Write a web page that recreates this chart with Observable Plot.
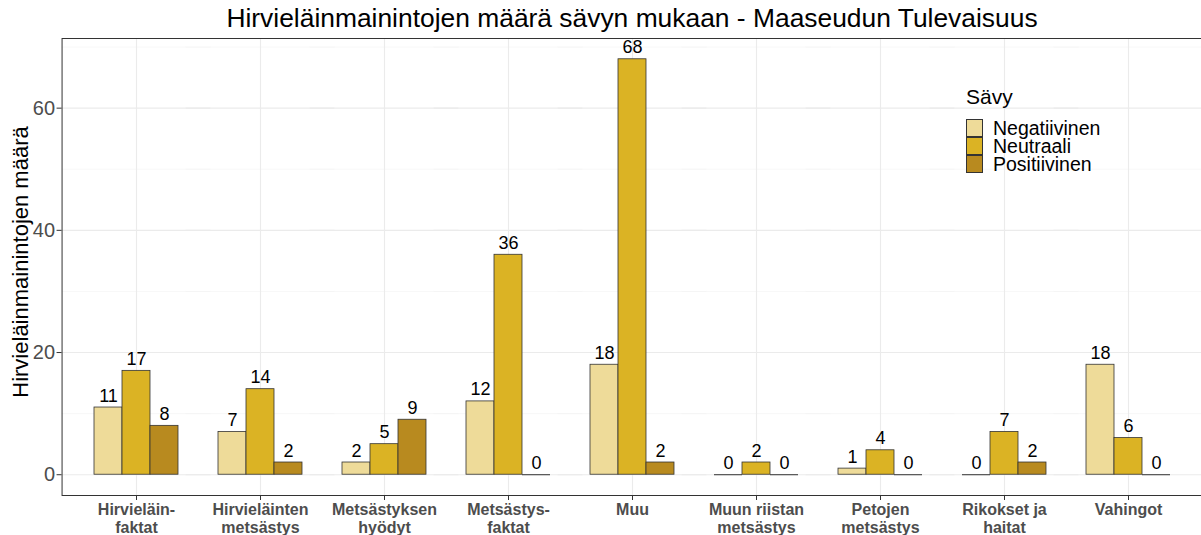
<!DOCTYPE html>
<html><head><meta charset="utf-8">
<script src="https://cdn.jsdelivr.net/npm/d3@7"></script>
<script src="https://cdn.jsdelivr.net/npm/@observablehq/plot@0.6"></script>
<style>
html,body{margin:0;padding:0;background:#fff;overflow:hidden;}
#wrap{position:relative;width:1201px;height:535px;overflow:hidden;font-family:"Liberation Sans",Arial,sans-serif;}
#chart{position:absolute;left:0;top:0;width:1205px;}
#chart svg{max-width:none !important;}
#title{position:absolute;left:60px;width:1144px;top:3px;text-align:center;font-size:26.4px;line-height:30px;color:#000;white-space:nowrap;}
#ylab{position:absolute;left:21px;top:262px;transform:translate(-50%,-50%) rotate(-90deg);font-size:22px;color:#000;white-space:nowrap;}
#legend{position:absolute;left:966px;top:84px;}
#legend .lt{font-size:21px;line-height:26px;margin-bottom:9px;color:#000;}
#legend .row{display:flex;align-items:center;height:18px;}
#legend .key{width:17px;height:18px;border:0.8px solid #333;box-sizing:border-box;}
#legend .lab{margin-left:10px;font-size:19.5px;color:#000;line-height:18px;}
</style></head>
<body>
<div id="wrap">
  <div id="chart"></div>
  <div id="title">Hirvieläinmainintojen määrä sävyn mukaan - Maaseudun Tulevaisuus</div>
  <div id="ylab">Hirvieläinmainintojen määrä</div>
  <div id="legend"></div>
</div>
<script>
const categories = ["Hirvieläin-faktat","Hirvieläinten metsästys","Metsästyksen hyödyt","Metsästys-faktat","Muu","Muun riistan metsästys","Petojen metsästys","Rikokset ja haitat","Vahingot"];
const tickLabels = ["Hirvieläin-\nfaktat","Hirvieläinten\nmetsästys","Metsästyksen\nhyödyt","Metsästys-\nfaktat","Muu","Muun riistan\nmetsästys","Petojen\nmetsästys","Rikokset ja\nhaitat","Vahingot"];
const series = ["Negatiivinen","Neutraali","Positiivinen"];
const negatiivinen = [11, 7, 2, 12, 18, 0, 1, 0, 18];
const neutraali   = [17, 14, 5, 36, 68, 2, 4, 7, 6];
const positiivinen = [8, 2, 9, 0, 2, 0, 0, 2, 0];
const colors = ["#EEDB99","#DBB324","#B88A1F"];
const yTicks = [0, 20, 40, 60];
const yMinorTicks = [10, 30, 50, 70];
const yDomain = [-3.4, 71.4];

const seriesValues = [negatiivinen, neutraali, positiivinen];
const rows = categories.flatMap((c, i) => series.map((s, j) => ({category: c, savy: s, value: seriesValues[j][i]})));

const W = 1205, ML = 60, MR = 1, fxOuter = 0.1;
// outer padding of the fx band scale in pixels (the panel extends over it, like ggplot's discrete expansion)
const pad = (W - ML - MR) / (categories.length + 2 * fxOuter) * fxOuter;

const plot = Plot.plot({
  width: W, height: 535,
  marginTop: 38, marginBottom: 40, marginLeft: ML, marginRight: MR,
  style: {fontFamily: '"Liberation Sans", Arial, sans-serif', background: "transparent", maxWidth: "none"},
  fx: {domain: categories, paddingInner: 0, paddingOuter: fxOuter, label: null},
  x: {domain: series, paddingInner: 0, paddingOuter: 0.645, axis: null},
  y: {domain: yDomain, label: null},
  color: {domain: series, range: colors},
  marks: [
    Plot.gridY(yMinorTicks, {insetLeft: -pad, insetRight: -pad, stroke: "#F3F3F3", strokeOpacity: 1, strokeWidth: 0.6}),
    Plot.gridY(yTicks, {insetLeft: -pad, insetRight: -pad, stroke: "#EBEBEB", strokeOpacity: 1, strokeWidth: 1.1}),
    Plot.gridFx({stroke: "#EBEBEB", strokeOpacity: 1, strokeWidth: 1.1}),
    Plot.barY(rows, {fx: "category", x: "savy", y: "value", fill: "savy", stroke: "#333", strokeWidth: 0.8, inset: 0}),
    Plot.tickY(rows.filter(d => d.value === 0), {fx: "category", x: "savy", y: "value", stroke: "#333", strokeWidth: 1}),
    Plot.text(rows, {fx: "category", x: "savy", y: "value", text: d => String(d.value), lineAnchor: "bottom", dy: -6, fontSize: 18, fill: "#000"}),
    Plot.axisY(yTicks, {dx: -pad, tickSize: 5, tickPadding: 2, fontSize: 20, fill: "#4D4D4D", stroke: "#333", label: null}),
    Plot.axisFx({anchor: "bottom", tickSize: 5, tickPadding: 2, fontSize: 16, fontWeight: "bold", fill: "#4D4D4D", stroke: "#333", label: null, lineHeight: 1.12, tickFormat: c => tickLabels[categories.indexOf(c)]}),
    Plot.frame({facet: "super", insetLeft: -pad, insetRight: -pad, stroke: "#333", strokeWidth: 1})
  ]
});
plot.style.maxWidth = "none";
document.getElementById("chart").appendChild(plot);

const legend = document.getElementById("legend");
const lt = document.createElement("div"); lt.className = "lt"; lt.textContent = "Sävy"; legend.appendChild(lt);
series.forEach((s, j) => {
  const row = document.createElement("div"); row.className = "row";
  const k = document.createElement("div"); k.className = "key"; k.style.background = colors[j];
  const l = document.createElement("div"); l.className = "lab"; l.textContent = s;
  row.appendChild(k); row.appendChild(l); legend.appendChild(row);
});
</script>
</body></html>
